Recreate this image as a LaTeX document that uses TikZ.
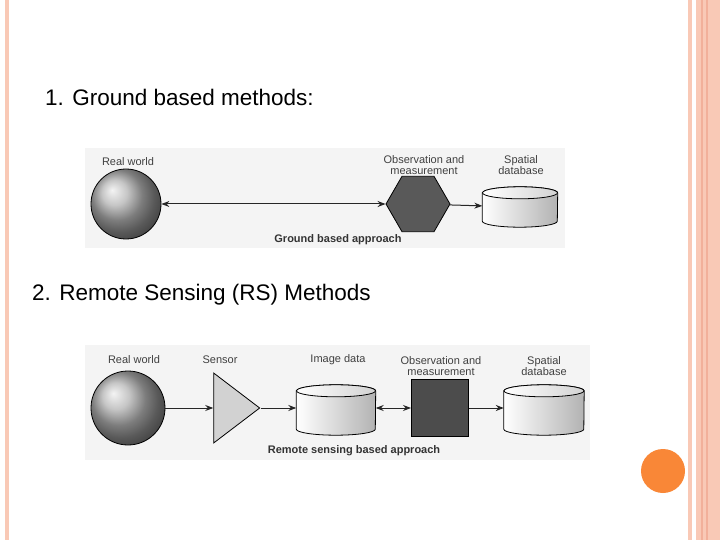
\documentclass[tikz,border=0pt]{standalone}
\usepackage{fontspec}
\setmainfont{Liberation Sans}
\usetikzlibrary{shapes.geometric,arrows.meta,calc}
\definecolor{pinkl}{HTML}{F9C9B6}
\definecolor{pinkd}{HTML}{F2B09A}
\definecolor{orng}{HTML}{F98737}
\definecolor{bgg}{HTML}{F4F4F4}
\newcommand\mycyl[5]{%
\node[minimum width=#4pt,minimum height=#5pt,inner sep=0pt] (#1) at (#2,#3) {};
\shade[left color=white,right color=gray!60,draw=black,line width=0.8pt]
 ($(#1.north west)+(0,6)$) -- ($(#1.south west)+(0,-6)$)
 arc[start angle=180,end angle=0,x radius=#4/2,y radius=6]
 -- ($(#1.north east)+(0,6)$)
 arc[start angle=0,end angle=-180,x radius=#4/2,y radius=6] -- cycle;
\shade[left color=white,right color=gray!35,draw=black,line width=0.8pt]
 ($(#1.north)+(0,6)$) ellipse[x radius=#4/2,y radius=6];}
\begin{document}
\begin{tikzpicture}[x=1pt,y=-1pt,
 lbl/.style={font=\fontsize{11}{12}\selectfont,text=black!75,align=center,inner sep=0pt},
 captxt/.style={font=\fontsize{11}{12}\selectfont\bfseries,text=black!80,inner sep=0pt},
 head/.style={font=\fontsize{22.5}{24}\selectfont,anchor=west,inner sep=0pt},
 arr/.style={-{Stealth[length=8pt,width=6pt]},line width=1pt,black!85},
 darr/.style={{Stealth[length=8pt,width=6pt]}-{Stealth[length=8pt,width=6pt]},line width=1pt,black!85},
 earth/.style={circle,draw=black,line width=0.8pt,inner sep=0pt,minimum size=#1,ball color=gray!60}]
\useasboundingbox (0,0) rectangle (720,540);
\fill[white] (0,0) rectangle (720,540);
% side decorations
\fill[pinkl] (5,0) rectangle (9,540);
\fill[pinkl] (688,0) rectangle (692,540);
\fill[pinkl] (696,0) rectangle (720,540);
\fill[pinkd] (701,0) rectangle (703,540);
\fill[pinkd] (706,0) rectangle (708,540);
\node[circle,fill=orng,minimum size=44pt,inner sep=0pt] (dot) at (663,471) {};
% headings
\node[head] (h1) at (45,97) {1. Ground based methods:};
\node[head] (h2) at (32,295) {2. Remote Sensing (RS) Methods};
% diagram 1
\fill[bgg] (85,148) rectangle (565,248);
\node[earth=70pt] (e1) at (126,204) {};
\node[lbl] (e1l) at (128,162) {Real world};
\node[regular polygon,regular polygon sides=6,draw=black,fill=gray!70!black,line width=0.8pt,minimum size=64pt,inner sep=0pt] (hex) at (418,204) {};
\node[lbl] (hexl) at (424,165) {Observation and\\[-1pt]measurement};
\mycyl{db1}{520}{207}{75}{40}
\node[lbl] (db1l) at (521,165) {Spatial\\[-1pt]database};
\draw[darr] (e1) -- (hex);
\draw[arr] (hex) -- (db1);
\node[captxt] (c1) at (338,240) {Ground based approach};
% diagram 2
\fill[bgg] (85,345) rectangle (590,460);
\node[earth=74pt] (e2) at (128,408) {};
\node[lbl] (e2l) at (134,360) {Real world};
\node[isosceles triangle,draw=black,fill=gray!35,line width=0.8pt,minimum height=46pt,minimum width=70pt,isosceles triangle stretches,inner sep=0pt] (sen) at (231,408) {};
\node[lbl] (senl) at (220,360) {Sensor};
\mycyl{img}{336}{410}{79}{50}
\node[lbl] (imgl) at (338,360) {Image data};
\node[rectangle,draw=black,fill=gray!60!black,line width=1pt,minimum width=57pt,minimum height=57pt,inner sep=0pt] (sq) at (440,408) {};
\node[lbl] (sql) at (441,366) {Observation and\\[-1pt]measurement};
\mycyl{db2}{544}{410}{80}{50}
\node[lbl] (db2l) at (544,366) {Spatial\\[-1pt]database};
\draw[arr] (e2) -- (sen);
\draw[arr] (sen.apex) -- (img.west|-sen.apex);
\draw[darr] (img.east|-sq) -- (sq);
\draw[arr] (sq) -- (db2.west|-sq);
\node[captxt] (c2) at (354,451) {Remote sensing based approach};
\end{tikzpicture}
\end{document}
